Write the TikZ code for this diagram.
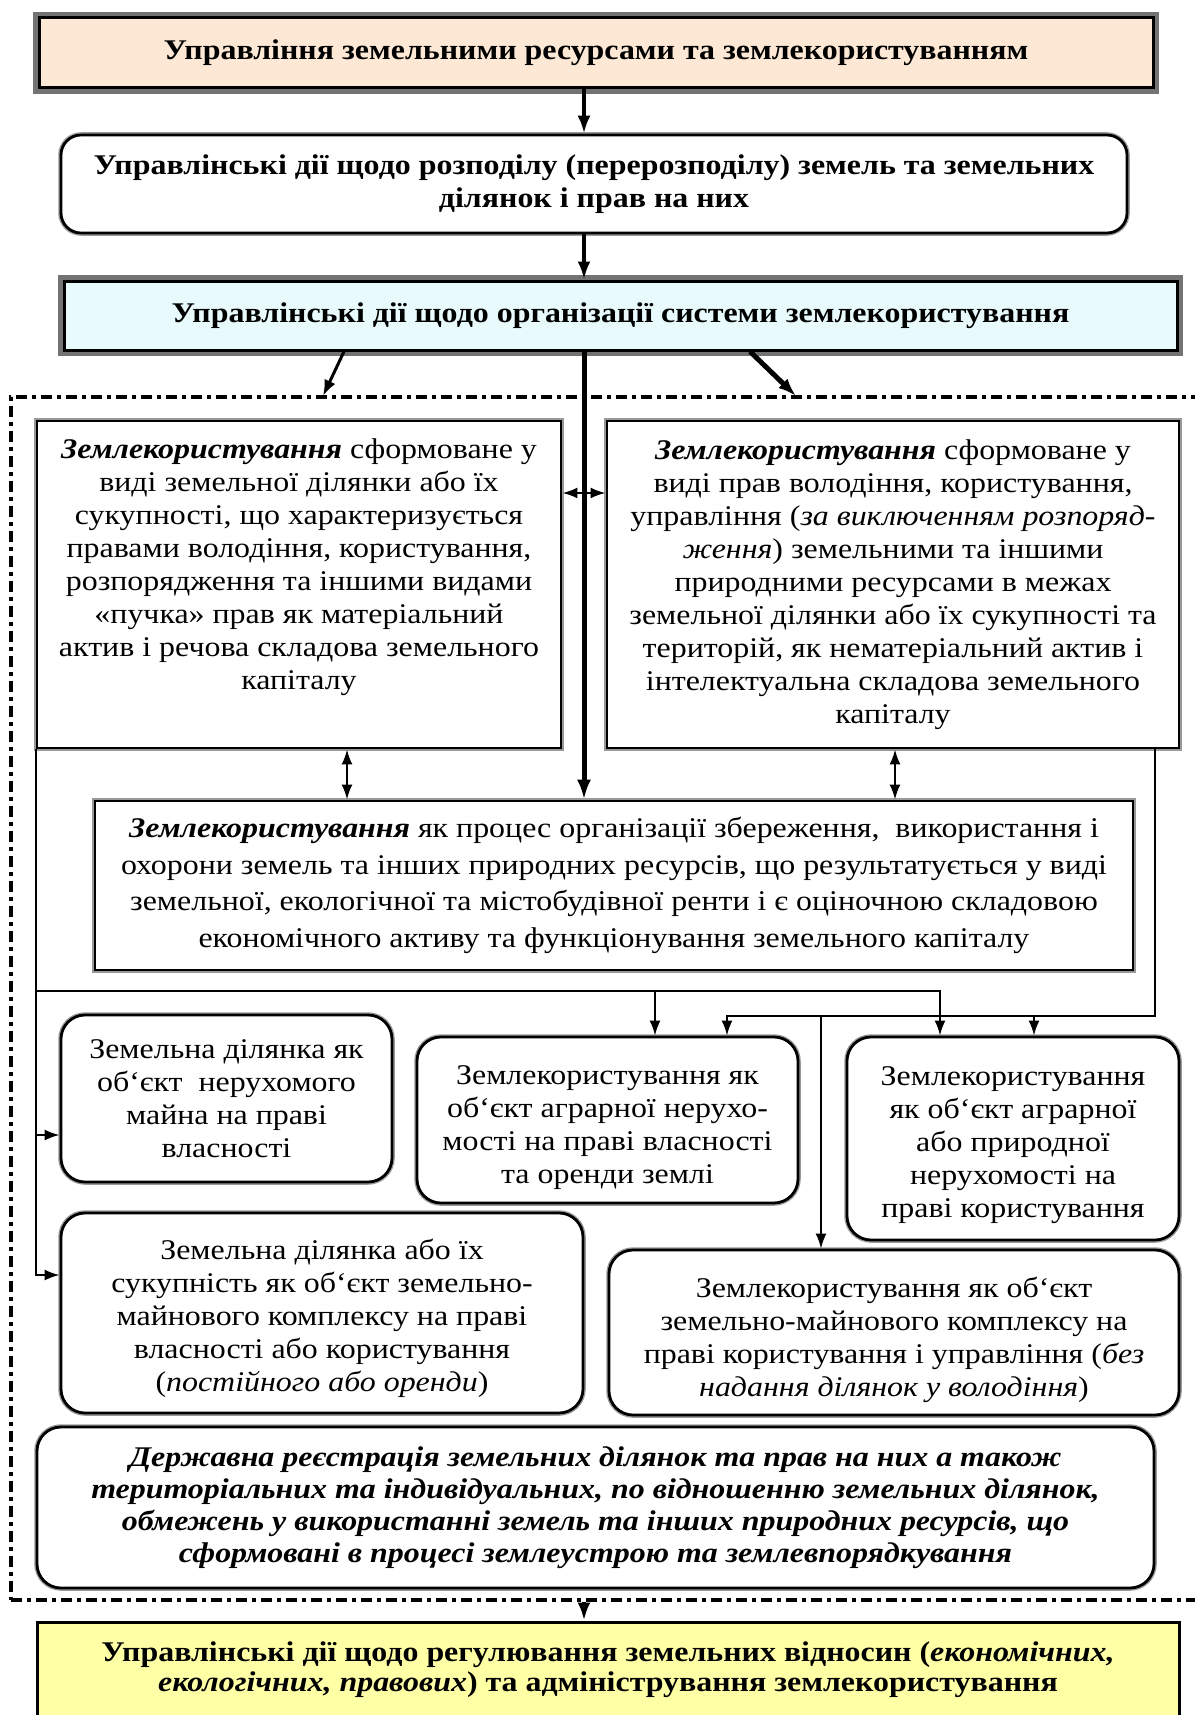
\documentclass[tikz,border=0pt]{standalone}
\usepackage{fontspec}
\setmainfont{Liberation Serif}[FakeStretch=1.12]
\usetikzlibrary{arrows.meta}
\definecolor{peach}{RGB}{252,232,212}
\definecolor{lcyan}{RGB}{232,250,252}
\definecolor{lyellow}{RGB}{255,255,165}
\begin{document}
\begin{tikzpicture}[x=1pt,y=-1pt,
  every node/.style={font=\fontsize{28.5}{33}\selectfont, inner sep=0pt, align=center},
  sqbox/.style={draw=black, line width=2.8pt, fill=white, preaction={draw=black!40, line width=5.5pt}},
  rbox/.style={sqbox, rounded corners=24pt},
  topbox/.style={draw=black, line width=3pt, fill=peach, preaction={draw=black!55, line width=12pt}},
  cyanbox/.style={draw=black, line width=3pt, fill=lcyan, preaction={draw=black!55, line width=12pt}},
  yelbox/.style={draw=black, line width=3pt, fill=lyellow},
  frame/.style={draw=black, line width=3.4pt, dash pattern=on 11pt off 5pt on 4pt off 5pt},
  mainarr/.style={line width=3.5pt, -{Latex[length=18pt,width=13pt]}},
  conn/.style={line width=2pt, -{Latex[length=15pt,width=11pt]}},
  dbl/.style={line width=2.2pt, {Latex[length=15pt,width=11pt]}-{Latex[length=15pt,width=11pt]}}
]
\useasboundingbox (0,0) rectangle (1194,1715);
\fill[white] (0,0) rectangle (1194,1715);

% frame
\node[frame, minimum width=1194, minimum height=1203] (frm) at (608,998.5) {};

% boxes
\node[topbox, minimum width=1114, minimum height=70] (top) at (596,53)
  {\textbf{Управління земельними ресурсами та землекористуванням}};
\node[rbox, rounded corners=20pt, minimum width=1066, minimum height=98] (b2) at (594,184)
  {\textbf{Управлінські дії щодо розподілу (перерозподілу) земель та земельних}\\
   \textbf{ділянок і прав на них}};
\node[cyanbox, minimum width=1113, minimum height=69] (b3) at (620.5,315.5)
  {\textbf{Управлінські дії щодо організації системи землекористування}};

\node[sqbox, minimum width=524, minimum height=327] (bA) at (299,584.5)
  {\textbf{\textit{Землекористування}} сформоване у\\
   виді земельної ділянки або їх\\
   сукупності, що характеризується\\
   правами володіння, користування,\\
   розпорядження та іншими видами\\
   «пучка» прав як матеріальний\\
   актив і речова складова земельного\\
   капіталу\\[8pt]\mbox{}};
\node[sqbox, minimum width=572, minimum height=327] (bB) at (893,584.5)
  {\textbf{\textit{Землекористування}} сформоване у\\
   виді прав володіння, користування,\\
   управління (\textit{за виключенням розпоряд-}\\
   \textit{ження}) земельними та іншими\\
   природними ресурсами в межах\\
   земельної ділянки або їх сукупності та\\
   територій, як нематеріальний актив і\\
   інтелектуальна складова земельного\\
   капіталу};
\node[sqbox, minimum width=1038, minimum height=169, font=\fontsize{28.5}{36.5}\selectfont] (bC) at (614,885.5)
  {\textbf{\textit{Землекористування}} як процес організації збереження,\ \ використання і\\
   охорони земель та інших природних ресурсів, що результатується у виді\\
   земельної, екологічної та містобудівної ренти і є оціночною складовою\\
   економічного активу та функціонування земельного капіталу};

\node[rbox, minimum width=331, minimum height=167] (bD) at (226.5,1098.5)
  {Земельна ділянка як\\ об`єкт\ \ нерухомого\\ майна на праві\\ власності};
\node[rbox, minimum width=381, minimum height=166] (bE) at (607.5,1120)
  {\rule{0pt}{35pt}Землекористування як\\ об`єкт аграрної нерухо-\\мості на праві власності\\ та оренди землі};
\node[rbox, minimum width=332, minimum height=203] (bG) at (1013,1138.5)
  {\rule{0pt}{33pt}Землекористування\\ як об`єкт аграрної\\ або природної\\ нерухомості на\\ праві користування};
\node[rbox, minimum width=522, minimum height=200] (bF) at (322,1313)
  {\rule{0pt}{31pt}Земельна ділянка або їх\\ сукупність як об`єкт земельно-\\майнового комплексу на праві\\ власності або користування\\ (\textit{постійного або оренди})};
\node[rbox, minimum width=570, minimum height=165] (bH) at (894,1332.5)
  {\rule{0pt}{35pt}Землекористування як об`єкт\\ земельно-майнового комплексу на\\ праві користування і управління (\textit{без}\\ \textit{надання ділянок у володіння})};
\node[rbox, minimum width=1117, minimum height=161, font=\fontsize{28.5}{32}\selectfont\bfseries\itshape] (bI) at (595.5,1507.5)
  {Державна реєстрація земельних ділянок та прав на них а також\\
   територіальних та індивідуальних, по відношенню земельних ділянок,\\
   обмежень у використанні земель та інших природних ресурсів, що\\
   сформовані в процесі землеустрою та землевпорядкування};
\node[yelbox, minimum width=1142, minimum height=96, font=\fontsize{28.5}{30}\selectfont\bfseries] (bJ) at (608,1670)
  {Управлінські дії щодо регулювання земельних відносин (\textit{економічних,}\\
   \textit{екологічних, правових}) та адміністрування землекористування};

% coordinates
\coordinate (axis) at (584,0);
\coordinate (dlx) at (344,0);
\coordinate (dlE) at (323,396);
\coordinate (drx) at (750,0);
\coordinate (drE) at (796,396);
\coordinate (hab) at (0,493);
\coordinate (vA) at (347,0);
\coordinate (vB) at (895,0);
\coordinate (yD) at (0,1135);
\coordinate (yF) at (0,1275);
\coordinate (h2) at (0,991);
\coordinate (h3) at (0,1016);
\coordinate (xE1) at (655,0);
\coordinate (xG1) at (940,0);
\coordinate (xE2) at (727,0);
\coordinate (xG2) at (1034,0);
\coordinate (xH) at (821,0);
\coordinate (xR) at (1155,0);

% connectors
\draw[mainarr] (top.south -| axis) -- (b2.north -| axis);
\draw[mainarr] (b2.south -| axis) -- (b3.north -| axis);
\draw[line width=3pt, -{Latex[length=16pt,width=12pt]}] (b3.south -| dlx) -- (dlE);
\draw[line width=5pt, -{Latex[length=18pt,width=13pt]}] (b3.south -| drx) -- (drE);
\draw[line width=5pt, -{Latex[length=20pt,width=14pt]}] (b3.south -| axis) -- (bC.north -| axis);
\draw[dbl] (bA.east |- hab) -- (bB.west |- hab);
\draw[dbl] (bA.south -| vA) -- (bC.north -| vA);
\draw[dbl] (bB.south -| vB) -- (bC.north -| vB);

\draw[conn] (bA.south west) -- (bA.south west |- yF) -- (bF.west |- yF);
\draw[conn] (bA.south west |- yD) -- (bD.west |- yD);
\draw[conn] (bA.south west |- h2) -- (xG1 |- h2) -- (bG.north -| xG1);
\draw[conn] (xE1 |- h2) -- (bE.north -| xE1);
\draw[conn] (bB.south -| xR) -- (xR |- h3) -- (xE2 |- h3) -- (bE.north -| xE2);
\draw[conn] (xG2 |- h3) -- (bG.north -| xG2);
\draw[conn] (xH |- h3) -- (bH.north -| xH);

\draw[mainarr] (frm.south -| axis) -- (bJ.north -| axis);
\end{tikzpicture}
\end{document}
